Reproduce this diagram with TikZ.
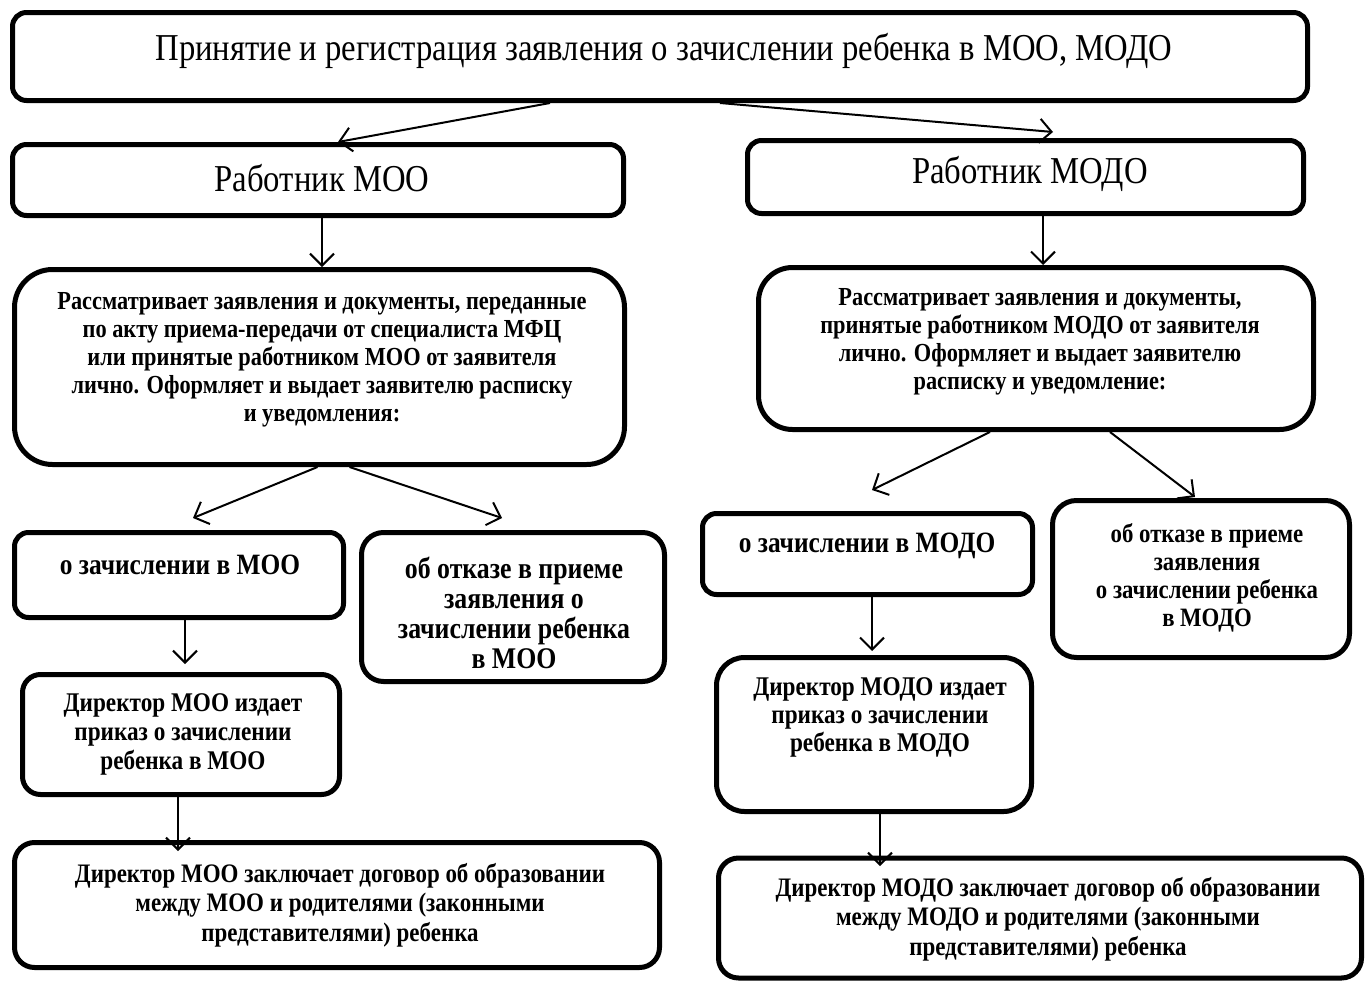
\documentclass[tikz,border=0pt]{standalone}
\usepackage{fontspec}
\setmainfont{Liberation Serif}
\newfontfamily\condfont{Liberation Serif}[FakeStretch=0.86]
\usetikzlibrary{arrows.meta}
\tikzset{
  box/.style={draw, line width=5pt, rounded corners=#1, inner sep=0pt},
  box/.default=14pt,
  txt/.style={align=center, inner sep=0pt, font=\condfont\bfseries\fontsize{26}{28}\selectfont},
  txtreg/.style={align=center, inner sep=0pt, font=\condfont\fontsize{38}{42}\selectfont},
  arr/.style={line width=2pt, -{Straight Barb[length=12pt, width=24pt, line width=2pt]}},
}
\begin{document}
\begin{tikzpicture}[x=1pt,y=-1pt]
\useasboundingbox (0,0) rectangle (1369,983);
% boxes
\node[box, minimum width=1295pt, minimum height=88pt] (top) at (660,56.5) {};
\node[box, minimum width=611pt, minimum height=71pt] (w1) at (318,180) {};
\node[box, minimum width=556pt, minimum height=73pt] (w2) at (1025.5,177) {};
\node[box=38pt, minimum width=610pt, minimum height=195pt] (r1) at (319.5,367) {};
\node[box=34pt, minimum width=555pt, minimum height=162pt] (r2) at (1036,348.5) {};
\node[box, minimum width=329pt, minimum height=85pt] (z1) at (179,575) {};
\node[box=22pt, minimum width=303pt, minimum height=149pt] (o1) at (513,607) {};
\node[box, minimum width=330pt, minimum height=81pt] (z2) at (867.5,554) {};
\node[box=24pt, minimum width=297pt, minimum height=157pt] (o2) at (1201,579) {};
\node[box=18pt, minimum width=317pt, minimum height=120pt] (d1) at (181,734.5) {};
\node[box=28pt, minimum width=315pt, minimum height=154pt] (d2) at (874,734.5) {};
\node[box=20pt, minimum width=645pt, minimum height=125pt] (c1) at (337,905) {};
\node[box=20pt, minimum width=643pt, minimum height=120pt] (c2) at (1040,918) {};
% texts
\node[txtreg] (ttop) at (664,51) {Принятие и регистрация заявления о зачислении ребенка в МОО, МОДО};
\node[txtreg] (tw1) at (322,178) {Работник МОО};
\node[txtreg] (tw2) at (1030,174) {Работник МОДО};
\node[txt] (tr1) at (322,360) {Рассматривает заявления и документы, переданные\\по акту приема-передачи от специалиста МФЦ\\или принятые работником МОО от заявителя\\лично. Оформляет и выдает заявителю расписку\\и уведомления:};
\node[txt] (tr2) at (1040,342) {Рассматривает заявления и документы,\\принятые работником МОДО от заявителя\\лично. Оформляет и выдает заявителю\\расписку и уведомление:};
\node[txt, font=\condfont\bfseries\fontsize{29.5}{30}\selectfont] (tz1) at (180,565) {о зачислении в МОО};
\node[txt, font=\condfont\bfseries\fontsize{30}{30}\selectfont] (to1) at (514,613) {об отказе в приеме\\заявления о\\зачислении ребенка\\в МОО};
\node[txt, font=\condfont\bfseries\fontsize{29.5}{30}\selectfont] (tz2) at (867,546) {о зачислении в МОДО};
\node[txt, font=\condfont\bfseries\fontsize{26.5}{28}\selectfont] (to2) at (1207,578) {об отказе в приеме\\заявления\\о зачислении ребенка\\в МОДО};
\node[txt, font=\condfont\bfseries\fontsize{27}{29}\selectfont] (td1) at (183,734) {Директор МОО издает\\приказ о зачислении\\ребенка в МОО};
\node[txt, font=\condfont\bfseries\fontsize{27}{28}\selectfont] (td2) at (880,717) {Директор МОДО издает\\приказ о зачислении\\ребенка в МОДО};
\node[txt, font=\condfont\bfseries\fontsize{26.7}{29.5}\selectfont] (tc1) at (340,905) {Директор МОО заключает договор об образовании\\между МОО и родителями (законными\\представителями) ребенка};
\node[txt, font=\condfont\bfseries\fontsize{26.7}{29.5}\selectfont] (tc2) at (1048,919) {Директор МОДО заключает договор об образовании\\между МОДО и родителями (законными\\представителями) ребенка};
% free ends
\coordinate (e5) at (193,518);
\coordinate (e6) at (502,518);
\coordinate (e7) at (872,490);
\coordinate (e8) at (1195,497);
\coordinate (e9) at (185,664);
\coordinate (e10) at (872,651);
\coordinate (e11) at (178,851);
\coordinate (e12) at (880,866);
\coordinate (e2) at (1053,132);
% arrows
\draw[arr] ([xshift=-110pt]top.south) -- ([xshift=20pt]w1.north);
\draw[arr] ([xshift=60pt]top.south) -- (e2);
\draw[arr] ([xshift=4pt]w1.south) -- ([xshift=2.5pt]r1.north);
\draw[arr] ([xshift=17.5pt]w2.south) -- ([xshift=7pt]r2.north);
\draw[arr] ([xshift=-2pt]r1.south) -- (e5);
\draw[arr] ([xshift=30pt]r1.south) -- (e6);
\draw[arr] ([xshift=-46pt]r2.south) -- (e7);
\draw[arr] ([xshift=74pt]r2.south) -- (e8);
\draw[arr] ([xshift=6pt]z1.south) -- (e9);
\draw[arr] ([xshift=4.5pt]z2.south) -- (e10);
\draw[arr] ([xshift=-3pt]d1.south) -- (e11);
\draw[arr] ([xshift=6pt]d2.south) -- (e12);
\end{tikzpicture}
\end{document}
